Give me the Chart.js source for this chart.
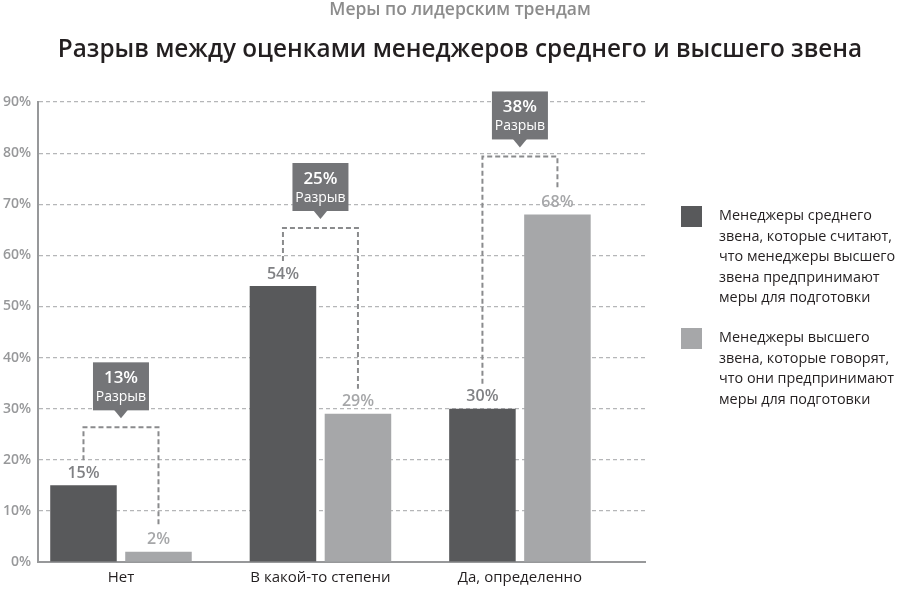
<!DOCTYPE html>
<html lang="ru">
<head>
<meta charset="UTF-8">
<title>Разрыв между оценками менеджеров</title>
<style>
    body { margin: 0; background: #fff; font-family: "Open Sans", Arial, sans-serif; }
    .wrap { position: relative; width: 900px; height: 591px; overflow: hidden; }
    .box { position: absolute; left: 0; top: 0; width: 900px; height: 591px; }
    .sub { position: absolute; top: -4px; left: 10px; width: 900px; text-align: center;
           font-size: 17.5px; font-weight: 600; color: #8c8c8c; }
    .title { position: absolute; top: 31px; left: 10px; width: 900px; text-align: center;
             font-size: 24.3px; font-weight: 600; color: #231f20; }
    .legend { position: absolute; left: 681px; width: 219px; }
    .legend .sw { position: absolute; left: 0; top: 0; width: 21px; height: 21px; }
    .legend .txt { margin-left: 38px; font-size: 14.4px; line-height: 20.5px; color: #231f20;
                   margin-top: -1px; white-space: nowrap; }
</style>
<script src="https://cdn.jsdelivr.net/npm/chart.js"></script>
</head>
<body>
<div class="wrap">
    <div class="box"><canvas id="chart"></canvas></div>
    <div class="sub">Меры по лидерским трендам</div>
    <div class="title">Разрыв между оценками менеджеров среднего и высшего звена</div>
    <div class="legend" style="top:206px">
        <div class="sw" style="background:#58595b"></div>
        <div class="txt">Менеджеры среднего<br>звена, которые считают,<br>что менеджеры высшего<br>звена предпринимают<br>меры для подготовки</div>
    </div>
    <div class="legend" style="top:328px">
        <div class="sw" style="background:#a6a7a9"></div>
        <div class="txt">Менеджеры высшего<br>звена, которые говорят,<br>что они предпринимают<br>меры для подготовки</div>
    </div>
</div>

<script>
    // данные
    const categories = ['Нет', 'В какой-то степени', 'Да, определенно'];
    const middleManagers = [15, 54, 30];
    const seniorManagers = [2, 29, 68];
    const gapValues = [13, 25, 38];
    const yTicks = [0, 10, 20, 30, 40, 50, 60, 70, 80, 90];
    const seriesNames = [
        'Менеджеры среднего звена, которые считают, что менеджеры высшего звена предпринимают меры для подготовки',
        'Менеджеры высшего звена, которые говорят, что они предпринимают меры для подготовки'
    ];

    const barColors = ['#58595b', '#a6a7a9'];
    const labelColors = ['#808184', '#a6a7a9'];

    // подписи над столбцами и выноски "Разрыв"
    const gapPlugin = {
        id: 'gapCallouts',
        afterDatasetsDraw(chart) {
            const ctx = chart.ctx;
            const metas = [chart.getDatasetMeta(0), chart.getDatasetMeta(1)];
            ctx.save();
            ctx.font = '600 16px "Open Sans"';
            ctx.textAlign = 'center';
            ctx.textBaseline = 'middle';
            metas.forEach((meta, d) => {
                meta.data.forEach((bar, i) => {
                    ctx.fillStyle = labelColors[d];
                    ctx.fillText(chart.data.datasets[d].data[i].y + '%', bar.x, bar.y - 12);
                });
            });

            categories.forEach((c, i) => {
                const a = metas[0].data[i], b = metas[1].data[i];
                const topY = Math.min(a.y, b.y) - 58;
                ctx.setLineDash([5, 3]);
                ctx.lineWidth = 2;
                ctx.strokeStyle = '#8a8b8d';
                ctx.beginPath();
                ctx.moveTo(a.x, a.y - 25);
                ctx.lineTo(a.x, topY);
                ctx.lineTo(b.x, topY);
                ctx.lineTo(b.x, b.y - 25);
                ctx.stroke();
                ctx.setLineDash([]);

                const cx = (a.x + b.x) / 2;
                ctx.fillStyle = '#747578';
                ctx.fillRect(cx - 28, topY - 65, 56, 48);
                ctx.beginPath();
                ctx.moveTo(cx - 7, topY - 17.5);
                ctx.lineTo(cx + 7, topY - 17.5);
                ctx.lineTo(cx, topY - 9);
                ctx.closePath();
                ctx.fill();

                ctx.fillStyle = '#ffffff';
                ctx.font = '600 17px "Open Sans"';
                ctx.fillText(gapValues[i] + '%', cx, topY - 49);
                ctx.font = '14px "Open Sans"';
                ctx.fillText('Разрыв', cx, topY - 30);
            });
            ctx.restore();
        }
    };

    const ctxChart = document.getElementById('chart').getContext('2d');
    new Chart(ctxChart, {
        type: 'bar',
        data: {
            datasets: [middleManagers, seniorManagers].map((vals, d) => ({
                label: seriesNames[d],
                data: vals.map((v, i) => ({ x: i, y: v })),
                backgroundColor: barColors[d],
                categoryPercentage: 0.752,
                barPercentage: 0.887
            }))
        },
        options: {
            responsive: true,
            maintainAspectRatio: false,
            animation: false,
            layout: { padding: { top: 102, right: 255, left: 0, bottom: 0 } },
            plugins: { legend: { display: false }, tooltip: { enabled: false } },
            scales: {
                x: {
                    type: 'linear',
                    offset: false,
                    min: -0.416,
                    max: 2.627,
                    afterBuildTicks: s => { s.ticks = categories.map((c, i) => ({ value: i })); },
                    afterFit: s => { s.height = 29; },
                    ticks: {
                        callback: v => categories[v],
                        color: '#231f20',
                        font: { family: 'Open Sans', size: 15 },
                        padding: 7,
                        autoSkip: false,
                        maxRotation: 0
                    },
                    grid: { display: false, drawTicks: false },
                    border: { display: true, color: '#97989a', width: 2 }
                },
                y: {
                    min: 0,
                    max: 90,
                    afterBuildTicks: s => { s.ticks = yTicks.map(v => ({ value: v })); },
                    afterFit: s => { s.width = 38; },
                    ticks: {
                        callback: v => v + '%',
                        color: '#97989a',
                        font: { family: 'Open Sans', size: 14, weight: '600' },
                        padding: 7
                    },
                    grid: {
                        color: c => c.tick && c.tick.value === 0 ? 'rgba(0,0,0,0)' : '#b5b6b8',
                        lineWidth: 1.2,
                        drawTicks: false
                    },
                    border: { display: true, color: '#97989a', width: 2, dash: [4, 3] }
                }
            }
        },
        plugins: [gapPlugin]
    });
</script>
</body>
</html>
